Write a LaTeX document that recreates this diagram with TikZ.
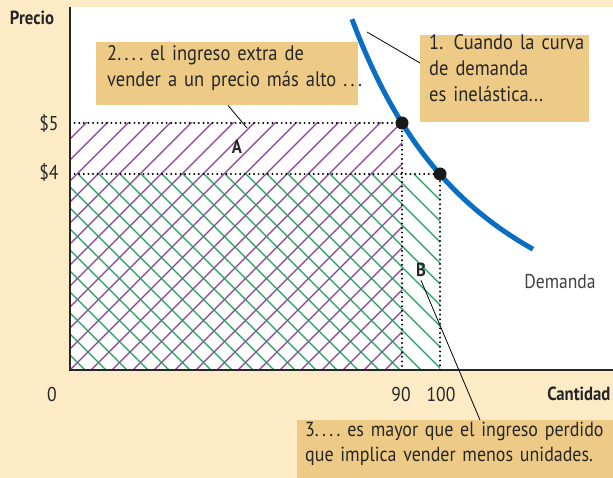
\documentclass[tikz,border=0pt]{standalone}
\usepackage{fontspec}
\setmainfont[FakeStretch=0.88]{PT Sans}
\usetikzlibrary{calc}
\definecolor{bgc}{HTML}{FDEBC6}
\definecolor{boxc}{HTML}{EDCA86}
\definecolor{hpurple}{HTML}{8E3B9E}
\definecolor{hgreen}{HTML}{1FA05F}
\definecolor{dblue}{HTML}{0A6FC2}
\newcommand{\dd}{.\kern3.4pt}
\begin{document}
\begin{tikzpicture}[x=1pt,y=-1pt,
  note/.style={fill=boxc, anchor=north west, align=left, inner xsep=9pt, inner ysep=0pt,
    font=\fontsize{21}{26}\selectfont, text=black!85},
  lbl/.style={font=\fontsize{20}{22}\selectfont, text=black!85},
  blbl/.style={font=\bfseries\fontsize{19}{22}\selectfont, text=black!85},
  guide/.style={black, line width=2.2pt, line cap=round, dash pattern=on 0pt off 4.6pt},
  leader/.style={black, line width=0.8pt},
  dotpt/.style={circle, fill=black!90, inner sep=0pt, minimum size=13pt}]
\useasboundingbox (0,0) rectangle (613,478);
\fill[bgc] (0,0) rectangle (613,478);
\fill[white] (70,7) rectangle (613,370);
% hatching
\begin{scope}
\clip (70,123) rectangle (402,370);
\foreach \i in {-14,...,17} \draw[hpurple, line width=1.2pt] ({70+\i*21},370) -- ++(260,-260);
\end{scope}
\begin{scope}
\clip (70,174) rectangle (440,370);
\foreach \i in {-12,...,19} \draw[hgreen, line width=1.2pt] ({70+\i*21+8},174) -- ++(210,210);
\end{scope}
% guides
\draw[guide] (70,123) -- (402,123) -- (402,370);
\draw[guide] (70,174) -- (440,174) -- (440,370);
% axes
\draw[black!85, line width=1.5pt] (70,7) -- (70,370) -- (613,370);
% demand
\draw[dblue, line width=5pt] plot[domain=282:463, samples=80] ({70+\x}, {370-247*(332/\x)^2.15});
\node[dotpt] (p5) at (402,123) {};
\node[dotpt] (p4) at (440,174) {};
% labels
\node[blbl] (py) at (32,18) {Precio};
\node[blbl, anchor=east] (qx) at (614,394) {Cantidad};
\node[lbl, anchor=east] (l5) at (62,124) {\$5};
\node[lbl, anchor=east] (l4) at (62,173) {\$4};
\node[lbl] (l0) at (52,394) {0};
\node[lbl] (l90) at (401,394) {90};
\node[lbl] (l100) at (441,394) {100};
\node[lbl, text=black!75] (dem) at (560,282) {Demanda};
\node[blbl] (A) at (237,147) {A};
\node[blbl] (B) at (421,270) {B};
% notes
\node[note, text width=151pt] (b1) at (420,35)
  {\rule{0pt}{0pt}\\[-12pt]\mbox{1. Cuando la curva}\\\mbox{de demanda}\\\mbox{es inelástica...}\\[-5pt]\rule{0pt}{0pt}};
\node[note, text width=240pt, inner xsep=11pt] (b2) at (96,42)
  {\rule{0pt}{0pt}\\[-8pt]\mbox{2\dd\dd\dd.\ el ingreso extra de}\\\mbox{vender a un precio más alto \dd\dd.}\\[-7pt]\rule{0pt}{0pt}};
\node[note, text width=300pt, inner xsep=8pt, font=\fontsize{20.4}{25}\selectfont] (b3) at (297,420)
  {\rule{0pt}{0pt}\\[-9pt]\mbox{3\dd\dd\dd.\ es mayor que el ingreso perdido}\\\mbox{que implica vender menos unidades.}\\[-2pt]\rule{0pt}{0pt}};
% leaders
\coordinate (c1) at (367,32);
\coordinate (ca) at (247,128);
\draw[leader] ($(b1.north west)+(0,28)$) -- (c1);
\draw[leader] ($(b2.south west)+(132,0)$) -- (ca);
\draw[leader] (B.south) -- ($(b3.north west)+(183,0)$);
\end{tikzpicture}
\end{document}
